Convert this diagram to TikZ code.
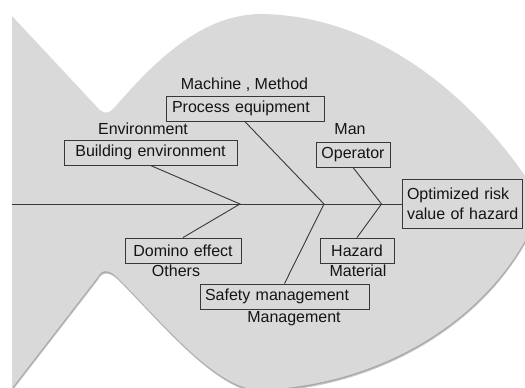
\documentclass[tikz,border=0pt]{standalone}
\usepackage{fontspec}
\setmainfont{Liberation Sans}
\definecolor{fishfill}{HTML}{D9D9D9}
\definecolor{fishshadowA}{HTML}{C4C4C4}
\definecolor{fishshadowB}{HTML}{A6A6A6}
\definecolor{inkline}{HTML}{383838}
\definecolor{inktext}{HTML}{141414}
\begin{document}
\begin{tikzpicture}[x=1pt,y=-1pt,
  every node/.style={font=\fontsize{16}{20}\selectfont, text=inktext},
  causebox/.style={draw=inkline, line width=0.9pt, inner ysep=0pt, minimum height=25pt},
  bone/.style={draw=inkline, line width=0.9pt},
  spine/.style={draw=inkline, line width=1pt},
  catlabel/.style={anchor=base, inner sep=0pt}]
\useasboundingbox (0,0) rectangle (525,388);
\clip (0,0) rectangle (525,388);
\def\fishpath{(12,16) -- (96,106) .. controls (101,112) and (107,116) .. (114,108)
  .. controls (160,55) and (205,14) .. (262,14)
  .. controls (380,16) and (480,100) .. (542,202)
  .. controls (510,300) and (400,385) .. (258,390)
  .. controls (215,388) and (160,320) .. (118,278)
  .. controls (110,270) and (102,268) .. (97,278)
  -- (12,388) -- cycle}
\fill[fishshadowA, shift={(0.6,2.4)}] \fishpath;
\fill[fishshadowB, shift={(0.3,1.2)}] \fishpath;
\fill[fishfill] \fishpath;

% boxes
\node[causebox, align=left, inner xsep=6pt, text width=146pt] (proc) at (245,108.75) {Process equipment};
\node[causebox, align=center, inner xsep=5pt, text width=163pt] (build) at (150.5,152.5) {Building environment};
\node[causebox, align=center, inner xsep=4pt, text width=66pt] (oper) at (353,154.5) {Operator};
\node[causebox, align=left, inner xsep=5pt, text width=110pt, minimum height=49pt] (head) at (462,204) {\mbox{Optimized risk}\\\mbox{value of hazard}};
\node[causebox, align=center, inner xsep=4pt, text width=108pt] (domino) at (183,250.5) {Domino effect};
\node[causebox, align=left, inner xsep=5pt, text width=159pt] (safety) at (284.5,296.5) {Safety management};
\node[causebox, align=center, inner xsep=4pt, text width=66pt] (hazard) at (357,250.5) {Hazard};

% category labels
\node[catlabel] (lmach) at (244.5,89.7) {Machine , Method};
\node[catlabel] (lenv) at (143,134.6) {Environment};
\node[catlabel] (lman) at (350,134) {Man};
\node[catlabel] (loth) at (176,276.5) {Others};
\node[catlabel] (lmat) at (358,276.5) {Material};
\node[catlabel] (lmgt) at (294,322) {Management};

% spine and bones
\coordinate (tail) at (12,204);
\coordinate (j1) at (240,204);
\coordinate (j2) at (324,204);
\coordinate (j3) at (381.5,204);
\draw[spine] (tail) -- (head.west);
\draw[bone] (build.south) -- (j1) -- (domino.north);
\draw[bone] (proc.south) -- (j2) -- (safety.north);
\draw[bone] (oper.south) -- (j3) -- (hazard.north);
\end{tikzpicture}
\end{document}
